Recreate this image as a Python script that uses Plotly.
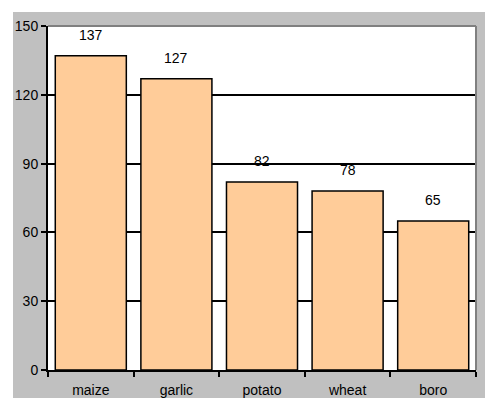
import plotly.graph_objects as go

# Crop yields by category
crops = ["maize", "garlic", "potato", "wheat", "boro"]
values = [137, 127, 82, 78, 65]
y_ticks = [0, 30, 60, 90, 120, 150]

FONT = "Liberation Sans, Arial, sans-serif"
GRAY_BG = "#c0c0c0"

W, H = 485, 398
L, R, T, B = 48, 9, 26, 28
pw, ph = W - L - R, H - T - B


def px_to_paper_x(px):
    return (px - L) / pw


def px_to_paper_y(py):
    return (H - py - B) / ph


fig = go.Figure(
    go.Bar(
        x=crops,
        y=values,
        marker=dict(color="#ffcc99", line=dict(color="black", width=1.5)),
        hoverinfo="skip",
    )
)

# value labels above each bar
for c, v in zip(crops, values):
    fig.add_annotation(
        x=c, y=v, text=str(v), showarrow=False,
        yanchor="bottom", yshift=11,
        font=dict(family=FONT, size=14, color="black"),
    )

shapes = [
    # gray chart area (white page shows above and to the left)
    dict(type="rect", xref="paper", yref="paper",
         x0=px_to_paper_x(13), x1=px_to_paper_x(W + 5),
         y0=px_to_paper_y(H + 5), y1=px_to_paper_y(12),
         fillcolor=GRAY_BG, line=dict(width=0), layer="below"),
    # white plot area on top of it
    dict(type="rect", xref="paper", yref="paper",
         x0=0, x1=1, y0=0, y1=1,
         fillcolor="white", line=dict(width=0), layer="below"),
    # gray frame on top and right of the plot area
    dict(type="line", xref="paper", yref="paper", x0=0, x1=1, y0=1, y1=1,
         line=dict(color="#808080", width=2)),
    dict(type="line", xref="paper", yref="paper", x0=1, x1=1, y0=0, y1=1,
         line=dict(color="#808080", width=2)),
]

fig.update_layout(
    width=W, height=H,
    autosize=False,
    margin=dict(l=L, r=R, t=T, b=B, pad=0, autoexpand=False),
    paper_bgcolor="white",
    plot_bgcolor="white",
    bargap=0.17,
    showlegend=False,
    shapes=shapes,
    font=dict(family=FONT, size=14, color="black"),
    xaxis=dict(
        showline=True, linecolor="black", linewidth=2,
        ticks="outside", ticklen=5, tickwidth=1.5, tickcolor="black",
        tickson="boundaries", showgrid=False, automargin=False,
        tickfont=dict(family=FONT, size=14, color="black"),
        ticklabelstandoff=6,
    ),
    yaxis=dict(
        range=[0, 150], tickvals=y_ticks, automargin=False,
        showline=True, linecolor="black", linewidth=2,
        ticks="outside", ticklen=5, tickwidth=1.5, tickcolor="black",
        showgrid=True, gridcolor="black", gridwidth=1.5,
        zeroline=False,
        tickfont=dict(family=FONT, size=14, color="black"),
    ),
)

fig.write_html("out.html")
